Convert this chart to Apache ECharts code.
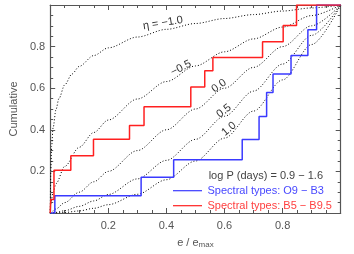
<!DOCTYPE html>
<html><head><meta charset="utf-8">
<script src="https://cdn.jsdelivr.net/npm/echarts@6/dist/echarts.min.js"></script>
<style>html,body{margin:0;padding:0;background:#fff}#c{width:354px;height:254px}</style>
</head><body><div id="c"></div>
<script>
// Step data: [e/emax at step, cumulative after step]
var redSteps = [[0,0],[0.002,0.065],[0.013,0.205],[0.071,0.275],[0.149,0.355],[0.273,0.421],[0.323,0.511],[0.484,0.606],[0.532,0.684],[0.560,0.748],[0.731,0.823],[0.802,0.901],[0.848,1.0],[1.0,1.0]];
var blueSteps = [[0,0],[0.016,0.083],[0.313,0.172],[0.425,0.256],[0.661,0.353],[0.719,0.464],[0.745,0.579],[0.767,0.668],[0.829,0.757],[0.887,0.881],[0.917,1.0],[1.0,1.0]];

// Model curves
var etaM1X = [0.0004,0.001,0.002,0.005,0.01,0.02,0.03,0.05,0.075,0.1,0.15,0.2,0.3,0.4,0.5,0.6,0.7,0.8,0.9,1.0];
var etaM1Y = [0,0.114,0.203,0.321,0.410,0.498,0.550,0.616,0.668,0.705,0.757,0.794,0.846,0.883,0.911,0.935,0.954,0.971,0.986,1.0];
var curveX = [0,0.001,0.003,0.01,0.02,0.05,0.1,0.15,0.2,0.3,0.4,0.5,0.6,0.7,0.8,0.9,1.0];
var etaM05Y = [0,0.032,0.055,0.100,0.141,0.224,0.316,0.387,0.447,0.548,0.632,0.707,0.775,0.837,0.894,0.949,1.0];
var eta0Y   = [0,0.001,0.003,0.010,0.020,0.050,0.100,0.150,0.200,0.300,0.400,0.500,0.600,0.700,0.800,0.900,1.0];
var eta05Y  = [0,0.00003,0.00016,0.001,0.0028,0.011,0.032,0.058,0.089,0.164,0.253,0.354,0.465,0.586,0.716,0.854,1.0];
var eta1Y   = [0,0.000001,0.00001,0.0001,0.0004,0.0025,0.010,0.0225,0.040,0.090,0.160,0.250,0.360,0.490,0.640,0.810,1.0];

var curveLabels = ['\u03b7 = \u22121.0','\u22120.5','0.0','0.5','1.0'];
var legendTitle = 'log P (days) = 0.9 \u2212 1.6';
var blueName = 'Spectral types: O9 \u2212 B3';
var redName = 'Spectral types: B5 \u2212 B9.5';

function zip(xs, ys){ return xs.map(function(x,i){return [x, ys[i]];}); }

var FONT = 'Liberation Sans, Arial, sans-serif';
var axisCol = '#555';
function mkX(pos, show){
  return {type:'value', min:0, max:1, interval:0.2, position:pos,
    axisLine:{show:true, onZero:false, lineStyle:{color:axisCol, width:1.2}},
    axisTick:{show:true, inside:true, length:5, lineStyle:{color:axisCol}},
    minorTick:{show:true, splitNumber:4, length:3, lineStyle:{color:axisCol}},
    splitLine:{show:false},
    axisLabel:{show:show, margin:7, color:'#555', fontSize:11, fontFamily:FONT,
      formatter:function(v){ return (v<=0.001||v>=0.999)?'':v.toFixed(1);} }
  };
}
var xa = mkX('bottom', true);
xa.name = 'e / e{s|max}';
xa.nameLocation = 'middle'; xa.nameGap = 23;
xa.nameTextStyle = {color:'#555', fontSize:11, fontFamily:FONT, rich:{s:{fontSize:8, color:'#555', fontFamily:FONT, padding:[5,0,0,0]}}};
var xb = mkX('top', false);
var ya = mkX('left', true);
ya.name = 'Cumulative'; ya.nameLocation='middle'; ya.nameGap = 29;
ya.nameTextStyle = {color:'#555', fontSize:11, fontFamily:FONT};
ya.axisLabel.margin = 5;
var yb = mkX('right', false);

function dotted(data){
  return {type:'line', data:data, xAxisIndex:0, yAxisIndex:0, showSymbol:false, symbol:'none',
    smooth:0.3, smoothMonotone:'x', silent:true,
    lineStyle:{color:'#000', width:1, type:[1,2]}, z:2};
}
function stepS(data, col){
  return {type:'line', data:data, step:'end', showSymbol:false, symbol:'none', silent:true,
    lineStyle:{color:col, width:1.5}, z:3};
}

var chart = echarts.init(document.getElementById('c'), null, {renderer:'canvas'});
var lblStyle = {fill:'#333', font:'11px '+FONT, align:'center', verticalAlign:'middle'};
function lbl(t,x,y,rotDeg){ return {type:'text', x:x, y:y, rotation:rotDeg*Math.PI/180, style:Object.assign({text:t}, lblStyle), z:10}; }
chart.setOption({
  animation:false,
  grid:{left:43.6, right:13.3, top:5, bottom:36.5},
  xAxis:[xa, xb],
  yAxis:[ya, yb],
  series:[
    dotted(zip(etaM1X, etaM1Y)),
    dotted(zip(curveX, etaM05Y)),
    dotted(zip(curveX, eta0Y)),
    dotted(zip(curveX, eta05Y)),
    dotted(zip(curveX, eta1Y)),
    stepS(blueSteps, '#3a3aff'),
    stepS(redSteps, '#ff2020')
  ],
  graphic:[
    lbl(curveLabels[0], 163, 23, 9),
    lbl(curveLabels[1], 181, 68, 27),
    lbl(curveLabels[2], 219, 86, 35),
    lbl(curveLabels[3], 224, 111, 38),
    lbl(curveLabels[4], 229, 129, 40),
    {type:'text', x:323, y:176, style:{text:legendTitle, fill:'#444', font:'11px '+FONT, align:'right', verticalAlign:'middle'}, z:10},
    {type:'line', shape:{x1:173, y1:190.7, x2:202, y2:190.7}, style:{stroke:'#3a3aff', lineWidth:1.2}, z:10},
    {type:'text', x:207.5, y:191, style:{text:blueName, fill:'#4848ff', font:'11px '+FONT, align:'left', verticalAlign:'middle'}, z:10},
    {type:'line', shape:{x1:173, y1:205.7, x2:202, y2:205.7}, style:{stroke:'#ff2020', lineWidth:1.2}, z:10},
    {type:'text', x:207.5, y:206, style:{text:redName, fill:'#ff4040', font:'11px '+FONT, align:'left', verticalAlign:'middle'}, z:10}
  ]
});
</script></body></html>
